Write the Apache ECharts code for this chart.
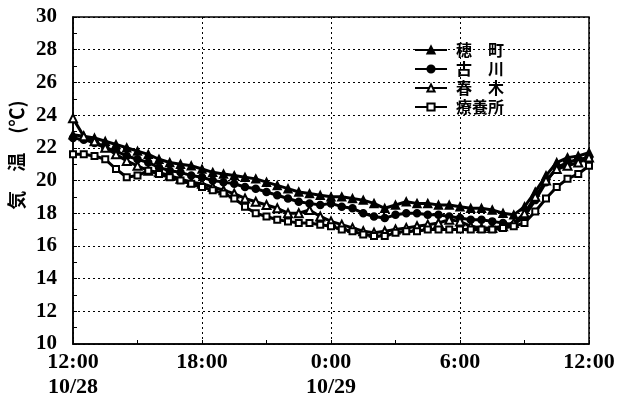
<!DOCTYPE html>
<html>
<head>
<meta charset="utf-8">
<script src="https://cdn.jsdelivr.net/npm/echarts@6/dist/echarts.min.js"></script>
<style>html,body{margin:0;padding:0;background:#fff;}#c{width:632px;height:406px;}</style>
</head>
<body>
<div id="c"></div>
<script>
// hours after 12:00 on 10/28 (30-minute readings)
const hours = [0,0.5,1,1.5,2,2.5,3,3.5,4,4.5,5,5.5,6,6.5,7,7.5,8,8.5,9,9.5,10,10.5,11,11.5,12,12.5,13,13.5,14,14.5,15,15.5,16,16.5,17,17.5,18,18.5,19,19.5,20,20.5,21,21.5,22,22.5,23,23.5,24];
const seriesNames = ['穂　町','古　川','春　木','療養所'];
const hotaka = [22.8,22.7,22.6,22.4,22.2,22.0,21.8,21.6,21.3,21.1,21.0,20.9,20.7,20.5,20.4,20.3,20.2,20.1,19.9,19.7,19.5,19.3,19.2,19.1,19.0,19.0,18.9,18.8,18.6,18.3,18.5,18.7,18.6,18.6,18.5,18.5,18.4,18.3,18.3,18.2,18.0,17.9,18.4,19.3,20.3,21.1,21.4,21.5,21.7];
const furukawa = [22.6,22.5,22.3,22.0,21.8,21.5,21.3,21.1,20.8,20.6,20.5,20.3,20.2,20.0,19.9,19.8,19.6,19.5,19.3,19.1,18.9,18.7,18.6,18.5,18.6,18.4,18.3,18.0,17.8,17.7,17.9,18.0,18.0,17.9,17.9,17.8,17.7,17.6,17.6,17.5,17.4,17.3,17.8,18.8,19.9,20.8,21.1,21.3,21.4];
const haruki = [23.8,22.7,22.4,22.0,21.6,21.2,20.9,20.6,20.5,20.3,20.1,19.9,19.8,19.6,19.4,19.2,18.9,18.7,18.5,18.3,18.0,18.0,18.2,17.8,17.5,17.3,17.1,16.9,16.8,16.9,17.0,17.1,17.2,17.3,17.4,17.6,17.5,17.2,17.1,17.1,17.2,17.4,18.0,19.0,20.0,20.7,20.9,21.1,21.4];
const ryoyosho = [21.6,21.6,21.5,21.3,20.7,20.2,20.3,20.6,20.4,20.2,20.0,19.8,19.6,19.4,19.2,18.9,18.4,18.0,17.8,17.6,17.5,17.4,17.4,17.3,17.2,17.0,16.9,16.7,16.6,16.6,16.8,16.9,16.9,17.0,17.0,17.0,17.0,17.0,17.0,17.0,17.1,17.2,17.4,18.1,18.9,19.6,20.1,20.4,20.9];
const xTickLabels = ['12:00\n10/28','18:00','0:00\n10/29','6:00','12:00'];
const yTicks = [10,12,14,16,18,20,22,24,26,28,30];

const symbols = ['triangle','circle','emptyTriangle','emptyRect'];
const symbolSizes = [8,7,8,6];
const allValues = [hotaka, furukawa, haruki, ryoyosho];

const chart = echarts.init(document.getElementById('c'));
chart.setOption({
  animation: false,
  backgroundColor: '#fff',
  grid: {left: 73, right: 43, top: 17, bottom: 62, show: true, borderColor: '#000', borderWidth: 1.5, backgroundColor: 'transparent'},
  legend: {
    orient: 'vertical', left: 409, top: 37,
    itemWidth: 32, itemHeight: 9, itemGap: 3,
    data: seriesNames,
    textStyle: {fontFamily: 'Noto Sans CJK JP', fontWeight: 'bold', fontSize: 16, lineHeight: 16, color: '#000', padding: [0,0,0,4]}
  },
  xAxis: {
    type: 'value', min: 0, max: 24, interval: 6,
    axisLine: {show: true, lineStyle: {color: '#000', width: 1.5}},
    axisTick: {show: true, inside: true, length: 4, lineStyle: {color: '#000'}},
    minorTick: {show: true, splitNumber: 2, length: 4, lineStyle: {color: '#000'}},
    splitLine: {show: true, lineStyle: {color: '#000', type: [2,3], width: 1}},
    axisLabel: {
      formatter: function (v) { return xTickLabels[Math.round(v / 6)]; },
      fontFamily: 'Liberation Serif', fontWeight: 'bold', fontSize: 22, lineHeight: 25,
      color: '#000', margin: 6, verticalAlign: 'top'
    }
  },
  yAxis: {
    type: 'value', min: yTicks[0], max: yTicks[yTicks.length - 1], interval: 2,
    axisLine: {show: true, lineStyle: {color: '#000', width: 1.5}},
    axisTick: {show: true, inside: true, length: 4, lineStyle: {color: '#000'}},
    minorTick: {show: true, splitNumber: 2, length: 4, lineStyle: {color: '#000'}},
    splitLine: {show: true, lineStyle: {color: '#000', type: [2,3], width: 1}},
    axisLabel: {fontFamily: 'Liberation Serif', fontWeight: 'bold', fontSize: 21, color: '#000', margin: 16}
  },
  graphic: [{
    type: 'text', x: 17, y: 155, rotation: Math.PI / 2,
    style: {text: '気　温　(℃)', fill: '#000', font: 'bold 19px "Noto Sans CJK JP"', align: 'center', verticalAlign: 'middle'}
  }],
  series: seriesNames.map(function (name, k) {
    return {
      name: name, type: 'line',
      data: hours.map(function (h, i) { return [h, allValues[k][i]]; }),
      symbol: symbols[k], symbolSize: symbolSizes[k], showSymbol: true,
      lineStyle: {color: '#000', width: 3},
      itemStyle: {color: '#000', borderColor: '#000', borderWidth: 1.5},
      z: 2 + k
    };
  })
});
</script>
</body>
</html>
